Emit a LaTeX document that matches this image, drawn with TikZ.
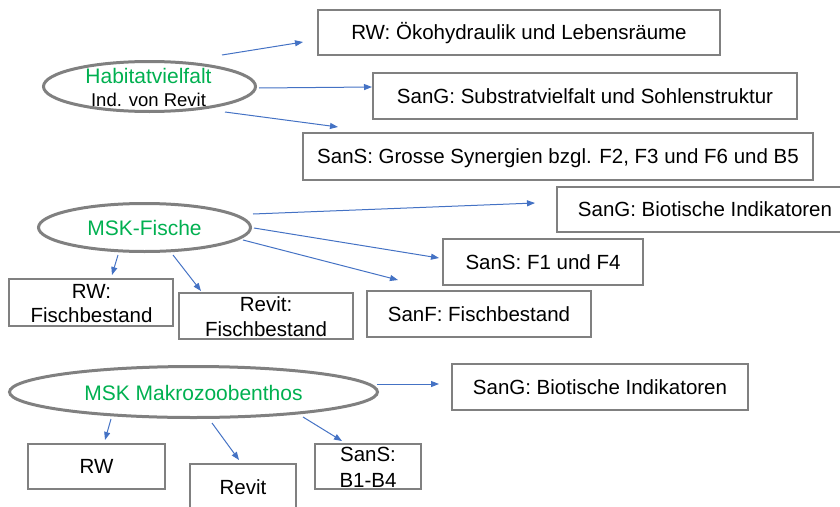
\documentclass[tikz,border=0pt]{standalone}
\usepackage{fontspec}
\setmainfont{Liberation Sans}
\usetikzlibrary{arrows.meta,shapes.geometric}
\definecolor{ggreen}{HTML}{00B050}
\definecolor{bblue}{HTML}{4472C4}
\definecolor{ggray}{HTML}{808080}
\tikzset{
  oval/.style={draw=ggray, line width=3pt, ellipse, inner sep=0pt},
  boxnode/.style={draw=ggray, line width=1.6pt, rectangle, inner sep=0pt, fill=white,
     font=\fontsize{20.5}{24.5}\selectfont, text height=14.7pt, text depth=0pt},
  btxt/.style={inner sep=0pt, anchor=base, font=\fontsize{20.5}{24.5}\selectfont},
  gtxt/.style={inner sep=0pt, anchor=base, text=ggreen, font=\fontsize{21}{25}\selectfont},
  stxt/.style={inner sep=0pt, anchor=base, font=\fontsize{18.5}{22}\selectfont},
  conn/.style={draw=bblue, line width=1pt, -{Triangle[length=8pt,width=6pt]}}
}
\begin{document}
\begin{tikzpicture}[x=1pt,y=-1pt]
\useasboundingbox (0,0) rectangle (840,506);
\clip (0,0) rectangle (840,506);
% ellipses
\node[oval, minimum width=212pt, minimum height=50pt] (e1) at (149.5,86.5) {};
\node[gtxt] (e1t) at (148.5,83.3) {Habitatvielfalt};
\node[stxt] (e1s) at (148.5,106) {Ind. von Revit};
\node[oval, minimum width=212pt, minimum height=48pt] (e2) at (144.5,227.5) {};
\node[gtxt] (e2t) at (144.5,235) {MSK-Fische};
\node[oval, minimum width=368pt, minimum height=51pt] (e3) at (193.5,392) {};
\node[gtxt] (e3t) at (193.5,400) {MSK Makrozoobenthos};
% boxes
\node[boxnode, minimum width=402pt, minimum height=45pt] (b1) at (519,32.5) {RW: Ökohydraulik und Lebensräume};
\node[boxnode, minimum width=424pt, minimum height=46pt] (b2) at (585,96) {SanG: Substratvielfalt und Sohlenstruktur};
\node[boxnode, minimum width=510pt, minimum height=47pt] (b3) at (558,156.5) {SanS: Grosse Synergien bzgl. F2, F3 und F6 und B5};
\node[boxnode, minimum width=296pt, minimum height=45pt] (b4) at (705,209.5) {SanG: Biotische Indikatoren};
\node[boxnode, minimum width=200pt, minimum height=46pt] (b5) at (543,262) {SanS: F1 und F4};
\node[boxnode, minimum width=224pt, minimum height=46pt] (b6) at (479,314) {SanF: Fischbestand};
\node[boxnode, minimum width=164pt, minimum height=47pt] (b7) at (91,302.5) {};
\node[btxt] (b7a) at (91.5,298.3) {RW:};
\node[btxt] (b7b) at (91.5,322.7) {Fischbestand};
\node[boxnode, minimum width=174pt, minimum height=46pt] (b8) at (266,316) {};
\node[btxt] (b8a) at (266,311.7) {Revit:};
\node[btxt] (b8b) at (266,336) {Fischbestand};
\node[boxnode, minimum width=296pt, minimum height=46pt] (b9) at (600,387) {SanG: Biotische Indikatoren};
\node[boxnode, minimum width=137pt, minimum height=45pt] (b10) at (96.5,466.5) {RW};
\node[boxnode, minimum width=106pt, minimum height=46pt] (b11) at (243,487) {Revit};
\node[boxnode, minimum width=106pt, minimum height=45pt] (b12) at (368,466.5) {};
\node[btxt] (b12a) at (368,461.7) {SanS:};
\node[btxt] (b12b) at (368,487.3) {B1-B4};
% connector ends
\coordinate (a1s) at (222,55);  \coordinate (a1e) at (303,42);
\coordinate (a2s) at (259,88);  \coordinate (a2e) at (372,87);
\coordinate (a3s) at (225,112); \coordinate (a3e) at (338,127);
\coordinate (a4s) at (253,214); \coordinate (a4e) at (535,203);
\coordinate (a5s) at (254,228); \coordinate (a5e) at (439,258);
\coordinate (a6s) at (243,240); \coordinate (a6e) at (398,280);
\coordinate (a7s) at (118,255); \coordinate (a7e) at (112,275);
\coordinate (a8s) at (173,255); \coordinate (a8e) at (201,291);
\coordinate (a9s) at (377,384); \coordinate (a9e) at (439,384);
\coordinate (a10s) at (111,419); \coordinate (a10e) at (105,440);
\coordinate (a11s) at (212,423); \coordinate (a11e) at (239,460);
\coordinate (a12s) at (303,417); \coordinate (a12e) at (342,441);
\foreach \i in {1,...,12} { \draw[conn] (a\i s) -- (a\i e); }
\end{tikzpicture}
\end{document}
